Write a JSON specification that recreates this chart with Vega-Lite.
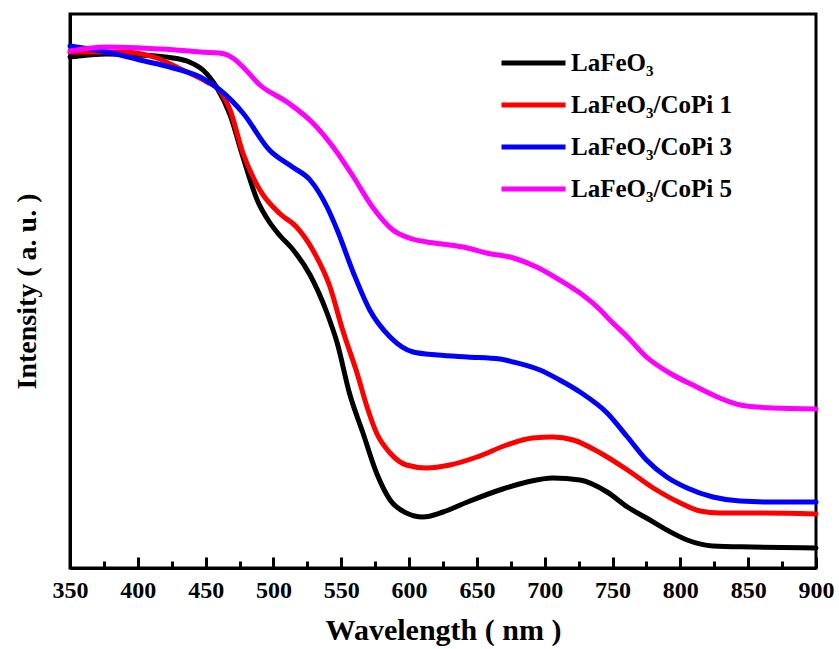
{
  "$schema": "https://vega.github.io/schema/vega-lite/v6.json",
  "width": 746,
  "height": 554,
  "autosize": "none",
  "padding": {"left": 70, "top": 14, "right": 23, "bottom": 81},
  "background": "white",
  "config": {
    "view": {"stroke": "black", "strokeWidth": 3},
    "font": "Liberation Serif"
  },
  "data": {
    "values": [
      {"sample": "LaFeO₃", "w": 350, "v": 511},
      {"sample": "LaFeO₃", "w": 377, "v": 514},
      {"sample": "LaFeO₃", "w": 400, "v": 513},
      {"sample": "LaFeO₃", "w": 426, "v": 510},
      {"sample": "LaFeO₃", "w": 438, "v": 506},
      {"sample": "LaFeO₃", "w": 448, "v": 498},
      {"sample": "LaFeO₃", "w": 458, "v": 481},
      {"sample": "LaFeO₃", "w": 468, "v": 453},
      {"sample": "LaFeO₃", "w": 477.5, "v": 411},
      {"sample": "LaFeO₃", "w": 488, "v": 368},
      {"sample": "LaFeO₃", "w": 497, "v": 346},
      {"sample": "LaFeO₃", "w": 505, "v": 332},
      {"sample": "LaFeO₃", "w": 514, "v": 319},
      {"sample": "LaFeO₃", "w": 527, "v": 293},
      {"sample": "LaFeO₃", "w": 539.5, "v": 255},
      {"sample": "LaFeO₃", "w": 547, "v": 225},
      {"sample": "LaFeO₃", "w": 556, "v": 175},
      {"sample": "LaFeO₃", "w": 566, "v": 135},
      {"sample": "LaFeO₃", "w": 576, "v": 95},
      {"sample": "LaFeO₃", "w": 586, "v": 68},
      {"sample": "LaFeO₃", "w": 598, "v": 55},
      {"sample": "LaFeO₃", "w": 610, "v": 51},
      {"sample": "LaFeO₃", "w": 625, "v": 56},
      {"sample": "LaFeO₃", "w": 643, "v": 66},
      {"sample": "LaFeO₃", "w": 669, "v": 79},
      {"sample": "LaFeO₃", "w": 687, "v": 86},
      {"sample": "LaFeO₃", "w": 706, "v": 90},
      {"sample": "LaFeO₃", "w": 726, "v": 88},
      {"sample": "LaFeO₃", "w": 746, "v": 76},
      {"sample": "LaFeO₃", "w": 761, "v": 61},
      {"sample": "LaFeO₃", "w": 775, "v": 50},
      {"sample": "LaFeO₃", "w": 790, "v": 38},
      {"sample": "LaFeO₃", "w": 805, "v": 28},
      {"sample": "LaFeO₃", "w": 824, "v": 22},
      {"sample": "LaFeO₃", "w": 853, "v": 21},
      {"sample": "LaFeO₃", "w": 900, "v": 20},

      {"sample": "LaFeO₃/CoPi 1", "w": 350, "v": 516},
      {"sample": "LaFeO₃/CoPi 1", "w": 389, "v": 516},
      {"sample": "LaFeO₃/CoPi 1", "w": 414, "v": 510},
      {"sample": "LaFeO₃/CoPi 1", "w": 433, "v": 498},
      {"sample": "LaFeO₃/CoPi 1", "w": 451, "v": 486},
      {"sample": "LaFeO₃/CoPi 1", "w": 460, "v": 478},
      {"sample": "LaFeO₃/CoPi 1", "w": 468, "v": 458},
      {"sample": "LaFeO₃/CoPi 1", "w": 477.5, "v": 415},
      {"sample": "LaFeO₃/CoPi 1", "w": 490, "v": 378},
      {"sample": "LaFeO₃/CoPi 1", "w": 505, "v": 354},
      {"sample": "LaFeO₃/CoPi 1", "w": 517, "v": 341},
      {"sample": "LaFeO₃/CoPi 1", "w": 529, "v": 318},
      {"sample": "LaFeO₃/CoPi 1", "w": 541.7, "v": 281},
      {"sample": "LaFeO₃/CoPi 1", "w": 551, "v": 238},
      {"sample": "LaFeO₃/CoPi 1", "w": 561.6, "v": 195},
      {"sample": "LaFeO₃/CoPi 1", "w": 569, "v": 161},
      {"sample": "LaFeO₃/CoPi 1", "w": 576, "v": 135},
      {"sample": "LaFeO₃/CoPi 1", "w": 586, "v": 115},
      {"sample": "LaFeO₃/CoPi 1", "w": 598, "v": 103},
      {"sample": "LaFeO₃/CoPi 1", "w": 613, "v": 100},
      {"sample": "LaFeO₃/CoPi 1", "w": 630, "v": 103},
      {"sample": "LaFeO₃/CoPi 1", "w": 650, "v": 111},
      {"sample": "LaFeO₃/CoPi 1", "w": 672, "v": 123},
      {"sample": "LaFeO₃/CoPi 1", "w": 691, "v": 130},
      {"sample": "LaFeO₃/CoPi 1", "w": 706, "v": 131},
      {"sample": "LaFeO₃/CoPi 1", "w": 721, "v": 128},
      {"sample": "LaFeO₃/CoPi 1", "w": 741, "v": 115},
      {"sample": "LaFeO₃/CoPi 1", "w": 761, "v": 98},
      {"sample": "LaFeO₃/CoPi 1", "w": 780, "v": 80},
      {"sample": "LaFeO₃/CoPi 1", "w": 800, "v": 65},
      {"sample": "LaFeO₃/CoPi 1", "w": 814.5, "v": 57},
      {"sample": "LaFeO₃/CoPi 1", "w": 829, "v": 55},
      {"sample": "LaFeO₃/CoPi 1", "w": 853, "v": 55},
      {"sample": "LaFeO₃/CoPi 1", "w": 900, "v": 54},

      {"sample": "LaFeO₃/CoPi 3", "w": 350, "v": 522},
      {"sample": "LaFeO₃/CoPi 3", "w": 377, "v": 516},
      {"sample": "LaFeO₃/CoPi 3", "w": 401.6, "v": 508},
      {"sample": "LaFeO₃/CoPi 3", "w": 426, "v": 500},
      {"sample": "LaFeO₃/CoPi 3", "w": 446, "v": 491},
      {"sample": "LaFeO₃/CoPi 3", "w": 460.6, "v": 478},
      {"sample": "LaFeO₃/CoPi 3", "w": 477.5, "v": 455},
      {"sample": "LaFeO₃/CoPi 3", "w": 497, "v": 418},
      {"sample": "LaFeO₃/CoPi 3", "w": 514, "v": 401},
      {"sample": "LaFeO₃/CoPi 3", "w": 527, "v": 388},
      {"sample": "LaFeO₃/CoPi 3", "w": 539.5, "v": 361},
      {"sample": "LaFeO₃/CoPi 3", "w": 547, "v": 338},
      {"sample": "LaFeO₃/CoPi 3", "w": 559, "v": 295},
      {"sample": "LaFeO₃/CoPi 3", "w": 571, "v": 258},
      {"sample": "LaFeO₃/CoPi 3", "w": 586, "v": 231},
      {"sample": "LaFeO₃/CoPi 3", "w": 603, "v": 216},
      {"sample": "LaFeO₃/CoPi 3", "w": 621, "v": 213},
      {"sample": "LaFeO₃/CoPi 3", "w": 643, "v": 211},
      {"sample": "LaFeO₃/CoPi 3", "w": 667, "v": 209},
      {"sample": "LaFeO₃/CoPi 3", "w": 677, "v": 206},
      {"sample": "LaFeO₃/CoPi 3", "w": 696.5, "v": 198},
      {"sample": "LaFeO₃/CoPi 3", "w": 711, "v": 188},
      {"sample": "LaFeO₃/CoPi 3", "w": 726, "v": 176},
      {"sample": "LaFeO₃/CoPi 3", "w": 746, "v": 155},
      {"sample": "LaFeO₃/CoPi 3", "w": 761, "v": 131},
      {"sample": "LaFeO₃/CoPi 3", "w": 775, "v": 108},
      {"sample": "LaFeO₃/CoPi 3", "w": 790, "v": 91},
      {"sample": "LaFeO₃/CoPi 3", "w": 805, "v": 80},
      {"sample": "LaFeO₃/CoPi 3", "w": 824, "v": 71},
      {"sample": "LaFeO₃/CoPi 3", "w": 844, "v": 67},
      {"sample": "LaFeO₃/CoPi 3", "w": 868, "v": 66},
      {"sample": "LaFeO₃/CoPi 3", "w": 900, "v": 66},

      {"sample": "LaFeO₃/CoPi 5", "w": 350, "v": 517},
      {"sample": "LaFeO₃/CoPi 5", "w": 377, "v": 521},
      {"sample": "LaFeO₃/CoPi 5", "w": 401.6, "v": 520},
      {"sample": "LaFeO₃/CoPi 5", "w": 438, "v": 517},
      {"sample": "LaFeO₃/CoPi 5", "w": 446, "v": 516},
      {"sample": "LaFeO₃/CoPi 5", "w": 460, "v": 515},
      {"sample": "LaFeO₃/CoPi 5", "w": 466, "v": 513},
      {"sample": "LaFeO₃/CoPi 5", "w": 470, "v": 510},
      {"sample": "LaFeO₃/CoPi 5", "w": 477.5, "v": 501},
      {"sample": "LaFeO₃/CoPi 5", "w": 490, "v": 483},
      {"sample": "LaFeO₃/CoPi 5", "w": 510, "v": 466},
      {"sample": "LaFeO₃/CoPi 5", "w": 529, "v": 445},
      {"sample": "LaFeO₃/CoPi 5", "w": 544, "v": 421},
      {"sample": "LaFeO₃/CoPi 5", "w": 559, "v": 391},
      {"sample": "LaFeO₃/CoPi 5", "w": 573, "v": 361},
      {"sample": "LaFeO₃/CoPi 5", "w": 588, "v": 338},
      {"sample": "LaFeO₃/CoPi 5", "w": 600, "v": 330},
      {"sample": "LaFeO₃/CoPi 5", "w": 613, "v": 326},
      {"sample": "LaFeO₃/CoPi 5", "w": 630, "v": 323},
      {"sample": "LaFeO₃/CoPi 5", "w": 643, "v": 320},
      {"sample": "LaFeO₃/CoPi 5", "w": 657, "v": 315},
      {"sample": "LaFeO₃/CoPi 5", "w": 677, "v": 310},
      {"sample": "LaFeO₃/CoPi 5", "w": 694, "v": 301},
      {"sample": "LaFeO₃/CoPi 5", "w": 711, "v": 288},
      {"sample": "LaFeO₃/CoPi 5", "w": 726, "v": 275},
      {"sample": "LaFeO₃/CoPi 5", "w": 741, "v": 258},
      {"sample": "LaFeO₃/CoPi 5", "w": 748, "v": 248},
      {"sample": "LaFeO₃/CoPi 5", "w": 761, "v": 231},
      {"sample": "LaFeO₃/CoPi 5", "w": 775, "v": 211},
      {"sample": "LaFeO₃/CoPi 5", "w": 792, "v": 195},
      {"sample": "LaFeO₃/CoPi 5", "w": 812, "v": 181},
      {"sample": "LaFeO₃/CoPi 5", "w": 829, "v": 170},
      {"sample": "LaFeO₃/CoPi 5", "w": 844, "v": 163},
      {"sample": "LaFeO₃/CoPi 5", "w": 868, "v": 160},
      {"sample": "LaFeO₃/CoPi 5", "w": 900, "v": 159}
    ]
  },
  "mark": {"type": "line", "interpolate": "monotone", "strokeWidth": 5, "strokeCap": "round", "strokeJoin": "round"},
  "encoding": {
    "x": {
      "field": "w",
      "type": "quantitative",
      "scale": {"domain": [350, 900], "nice": false, "zero": false},
      "axis": {
        "orient": "bottom",
        "zindex": 1,
        "title": "Wavelength ( nm )",
        "titleFont": "Liberation Serif",
        "titleFontSize": 30,
        "titleFontWeight": "bold",
        "titleColor": "black",
        "titlePadding": 9,
        "values": [350, 375, 400, 425, 450, 475, 500, 525, 550, 575, 600, 625, 650, 675, 700, 725, 750, 775, 800, 825, 850, 875, 900],
        "labelExpr": "datum.value % 50 === 0 ? datum.label : ''",
        "labelFont": "Liberation Serif",
        "labelFontSize": 24,
        "labelFontWeight": "bold",
        "labelColor": "black",
        "labelPadding": 21,
        "labelOverlap": false,
        "labelFlush": false,
        "domainColor": "black",
        "domainWidth": 3,
        "tickColor": "black",
        "tickWidth": 3,
        "tickSize": {"condition": {"test": "datum.value % 50 === 0", "value": -11}, "value": -7},
        "grid": false
      }
    },
    "y": {
      "field": "v",
      "type": "quantitative",
      "scale": {"domain": [0, 554], "nice": false},
      "axis": {
        "title": "Intensity ( a. u. )",
        "titleFont": "Liberation Serif",
        "titleFontSize": 28,
        "titleFontWeight": "bold",
        "titleColor": "black",
        "titlePadding": 29,
        "labels": false,
        "ticks": false,
        "grid": false,
        "domainColor": "black",
        "domainWidth": 3
      }
    },
    "color": {
      "field": "sample",
      "type": "nominal",
      "scale": {
        "domain": ["LaFeO₃", "LaFeO₃/CoPi 1", "LaFeO₃/CoPi 3", "LaFeO₃/CoPi 5"],
        "range": ["#000000", "#ff0000", "#0000ff", "#ff00ff"]
      },
      "legend": {
        "title": null,
        "orient": "none",
        "legendX": 429,
        "legendY": 28,
        "padding": 0,
        "symbolType": "stroke",
        "symbolSize": 4096,
        "symbolStrokeWidth": 5,
        "clipHeight": 42,
        "labelFont": "Liberation Serif",
        "labelFontSize": 25,
        "labelFontWeight": "bold",
        "labelColor": "black",
        "labelOffset": 3,
        "rowPadding": 0,
        "labelLimit": 300
      }
    }
  }
}
